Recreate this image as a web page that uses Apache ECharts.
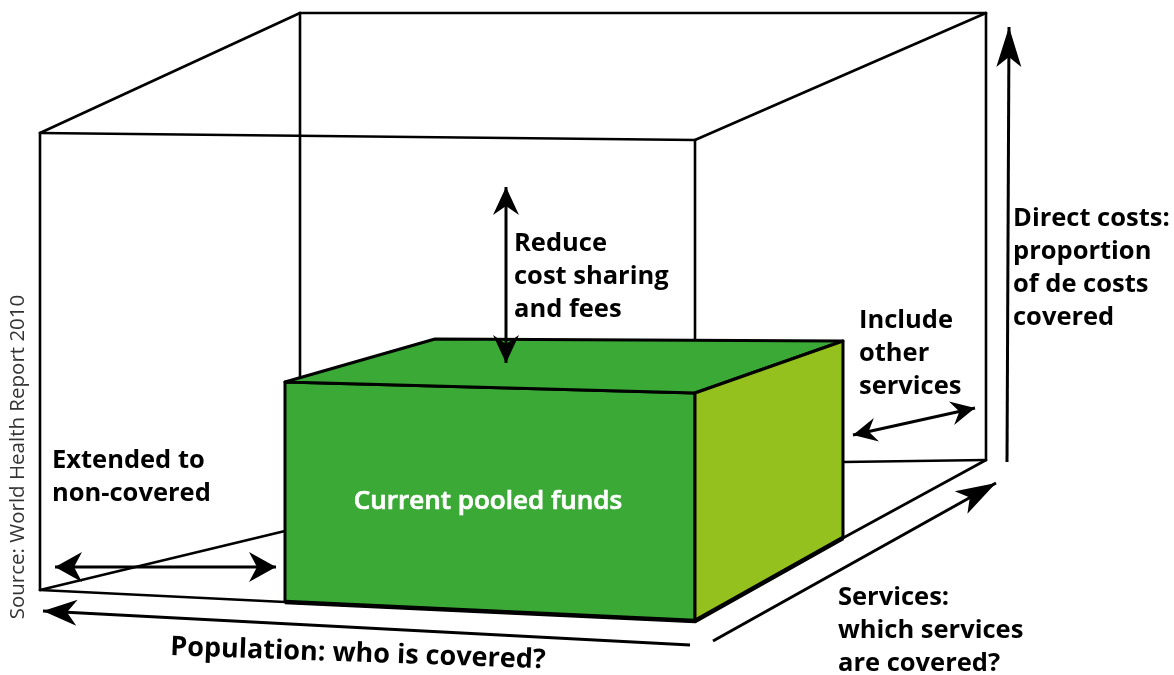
<!DOCTYPE html>
<html><head><meta charset="utf-8">
<script src="https://cdn.jsdelivr.net/npm/echarts@6/dist/echarts.min.js"></script>
<style>html,body{margin:0;padding:0;background:#fff}#c{width:1174px;height:675px}</style>
</head><body><div id="c"></div>
<script>
// ---- diagram geometry (data) ----
const frameEdges = [
  [40,133,300,13],[300,13,986,13],[986,13,695,140],[40,133,695,140],
  [40,133,40,590],[300,13,300,380],[695,140,695,393],[986,13,986,460],
  [40,590,285,602],[40,590,285,531],[843,462,986,460],[986,460,843,538]
];
const boxFront = [[285,382],[695,393],[695,621],[285,602]];
const boxTop   = [[285,382],[435,339],[843,341],[695,393]];
const boxSide  = [[695,393],[843,341],[843,538],[695,621]];
const boxBottom = [[285,602],[695,621],[843,538]];
// arrows: x1,y1 -> x2,y2 ; heads: 1 = at end, 2 = both ends
const arrowLines = [
  [506,363,506,187,2],
  [853,435,975,408,2],
  [1007,462,1009,27,1],
  [713,641,996,483,1],
  [690,645,43,611,1],
  [55,567,276,567,2]
];
// ---- texts ----
const reduceLabel   = ['Reduce','cost sharing','and fees'];
const includeLabel  = ['Include','other','services'];
const directLabel   = ['Direct costs:','proportion','of de costs','covered'];
const extendedLabel = ['Extended to','non-covered'];
const servicesLabel = ['Services:','which services','are covered?'];
const poolLabel = 'Current pooled funds';
const populationLabel = 'Population: who is covered?';
const sourceLabel = 'Source: World Health Report 2010';

// ---- styles / layout ----
const GREEN = '#3aa935', LIME = '#95c11f', INK = '#000';
const headStyle = [[28,13,9],[24,12,8],[40,12.5,10],[40,13,10],[34,13,10],[27,15,8]];
const FONT = '"Open Sans","Noto Sans",sans-serif';
const textLayout = [
  {lines: reduceLabel,   x: 514,  y: 244, lh: 33},
  {lines: includeLabel,  x: 859,  y: 321, lh: 33},
  {lines: directLabel,   x: 1013, y: 219, lh: 33},
  {lines: extendedLabel, x: 52,   y: 461, lh: 33},
  {lines: servicesLabel, x: 838,  y: 598, lh: 33}
];

const chart = echarts.init(document.getElementById('c'), null, {renderer: 'canvas'});

function head(tip, from, s) {
  const dx = tip[0]-from[0], dy = tip[1]-from[1], d = Math.hypot(dx, dy);
  const ux = dx/d, uy = dy/d, px = -uy, py = ux;
  const bx = tip[0]-ux*s[0], by = tip[1]-uy*s[0];
  const nx = tip[0]-ux*(s[0]-s[2]), ny = tip[1]-uy*(s[0]-s[2]);
  return [[tip[0],tip[1]],[bx+px*s[1],by+py*s[1]],[nx,ny],[bx-px*s[1],by-py*s[1]]];
}

const option = {
  animation: false,
  backgroundColor: '#fff',
  grid: {left: 0, right: 0, top: 0, bottom: 0},
  xAxis: {type: 'value', min: 0, max: 1174, show: false},
  yAxis: {type: 'value', min: 0, max: 675, inverse: true, show: false},
  series: [
    { // wireframe
      type: 'custom', clip: false, silent: true, z: 1,
      data: frameEdges,
      renderItem: (p, api) => {
        const a = api.coord([api.value(0), api.value(1)]), b = api.coord([api.value(2), api.value(3)]);
        return {type: 'line', shape: {x1: a[0], y1: a[1], x2: b[0], y2: b[1]},
          style: {stroke: INK, lineWidth: 2.6, lineCap: 'round'}};
      }
    },
    { // green box faces
      type: 'custom', clip: false, silent: true, z: 2,
      data: [0, 1, 2],
      renderItem: (p, api) => {
        const faces = [boxFront, boxTop, boxSide];
        const fills = [GREEN, GREEN, LIME];
        const pts = faces[p.dataIndex].map(v => api.coord(v));
        return {type: 'polygon', shape: {points: pts},
          style: {fill: fills[p.dataIndex], stroke: INK, lineWidth: 3, lineJoin: 'round'}};
      }
    },
    { // heavier base edge
      type: 'custom', clip: false, silent: true, z: 3,
      data: [0],
      renderItem: (p, api) => ({type: 'polyline', shape: {points: boxBottom.map(v => api.coord(v))},
        style: {stroke: INK, lineWidth: 4.5, fill: null, lineJoin: 'round'}})
    },
    { // arrows
      type: 'custom', clip: false, silent: true, z: 4,
      data: arrowLines,
      renderItem: (p, api) => {
        const a = api.coord([api.value(0), api.value(1)]), b = api.coord([api.value(2), api.value(3)]);
        const s = headStyle[p.dataIndex];
        const both = api.value(4) === 2;
        const children = [{type: 'line', shape: {x1: a[0], y1: a[1], x2: b[0], y2: b[1]},
          style: {stroke: INK, lineWidth: 3}}];
        children.push({type: 'polygon', shape: {points: head(b, a, s)}, style: {fill: INK}});
        if (both) children.push({type: 'polygon', shape: {points: head(a, b, s)}, style: {fill: INK}});
        return {type: 'group', children};
      }
    },
    { // black labels
      type: 'custom', clip: false, silent: true, z: 5,
      data: textLayout.map((t, i) => i),
      renderItem: (p, api) => {
        const t = textLayout[p.dataIndex];
        return {type: 'group', children: t.lines.map((s, k) => {
          const c = api.coord([t.x, t.y + k*t.lh]);
          return {type: 'text', x: c[0], y: c[1],
            style: {text: s, fill: INK, font: 'bold 25.5px ' + FONT, align: 'left', verticalAlign: 'middle'}};
        })};
      }
    },
    { // other labels
      type: 'custom', clip: false, silent: true, z: 6,
      data: [0, 1, 2],
      renderItem: (p, api) => {
        if (p.dataIndex === 0) {
          const c = api.coord([488, 502]);
          return {type: 'text', x: c[0], y: c[1],
            style: {text: poolLabel, fill: '#fff', font: '600 26px ' + FONT, align: 'center', verticalAlign: 'middle',
              stroke: '#fff', lineWidth: 0.7}};
        }
        if (p.dataIndex === 1) {
          const c = api.coord([358, 654]);
          return {type: 'text', x: c[0], y: c[1], rotation: -0.035,
            style: {text: populationLabel, fill: INK, font: 'bold 27px ' + FONT, align: 'center', verticalAlign: 'middle'}};
        }
        const c = api.coord([18, 457]);
        return {type: 'text', x: c[0], y: c[1], rotation: Math.PI/2,
          style: {text: sourceLabel, fill: '#333', font: 'normal 20.5px ' + FONT, align: 'center', verticalAlign: 'middle'}};
      }
    }
  ]
};
chart.setOption(option);
</script>
</body></html>
